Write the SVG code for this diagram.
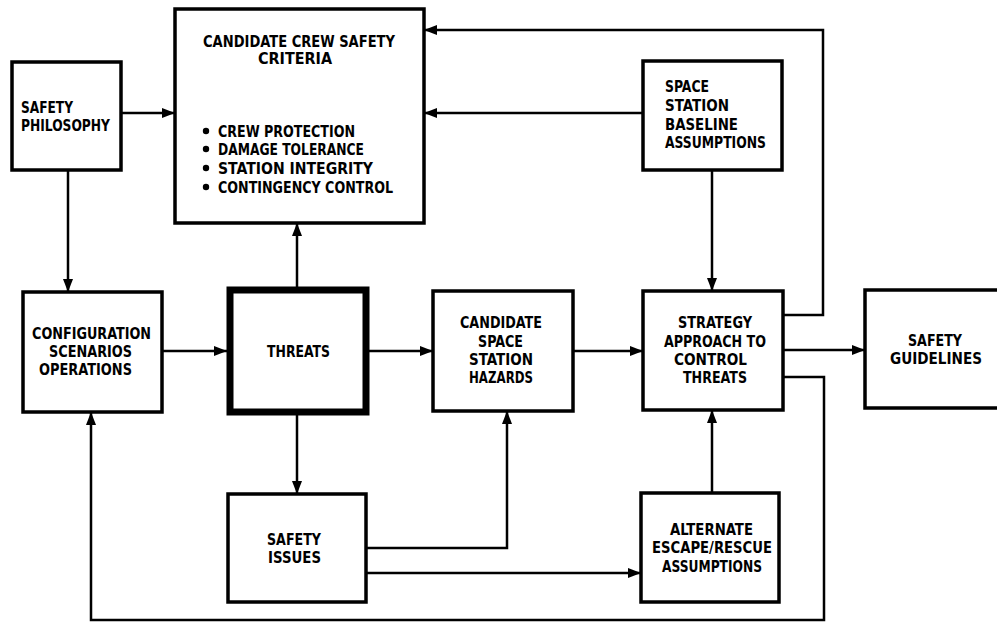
<svg xmlns="http://www.w3.org/2000/svg" width="997" height="622" viewBox="0 0 997 622">
<style>
.box{fill:#fff;stroke:#000;stroke-width:3.5}
.thick{fill:#fff;stroke:#000;stroke-width:7}
.c{fill:none;stroke:#000;stroke-width:2.5}
text{font-family:"DejaVu Sans Condensed","DejaVu Sans","Liberation Sans",sans-serif;font-weight:bold;font-size:15.5px;fill:#000}
</style>
<defs>
<marker id="ah" markerUnits="userSpaceOnUse" markerWidth="14" markerHeight="11" refX="13" refY="5" orient="auto">
<path d="M0,0 L13,5 L0,10 z" fill="#000"/>
</marker>
</defs>
<rect width="997" height="622" fill="#fff"/>
<g id="connectors">
<path class="c" d="M121,113 H175" marker-end="url(#ah)"/>
<path class="c" d="M68,170 V292" marker-end="url(#ah)"/>
<path class="c" d="M643,113 H424" marker-end="url(#ah)"/>
<path class="c" d="M783,315 H823 V30 H424" marker-end="url(#ah)"/>
<path class="c" d="M297,287 V223" marker-end="url(#ah)"/>
<path class="c" d="M162,351 H227" marker-end="url(#ah)"/>
<path class="c" d="M369,351 H433" marker-end="url(#ah)"/>
<path class="c" d="M573,351 H643" marker-end="url(#ah)"/>
<path class="c" d="M783,350 H865" marker-end="url(#ah)"/>
<path class="c" d="M712,170 V291" marker-end="url(#ah)"/>
<path class="c" d="M297,415 V494" marker-end="url(#ah)"/>
<path class="c" d="M366,548 H507 V411" marker-end="url(#ah)"/>
<path class="c" d="M366,573 H641" marker-end="url(#ah)"/>
<path class="c" d="M712,493 V410" marker-end="url(#ah)"/>
<path class="c" d="M783,377 H824 V620 H91 V412" marker-end="url(#ah)"/>
</g>
<g id="criteria">
<rect class="box" x="175" y="9" width="249" height="214"/>
<text x="203" y="47" textLength="192" lengthAdjust="spacingAndGlyphs">CANDIDATE CREW SAFETY</text>
<text x="258" y="64" textLength="74" lengthAdjust="spacingAndGlyphs">CRITERIA</text>
<circle cx="206" cy="131" r="3.2"/>
<text x="218" y="137" textLength="137" lengthAdjust="spacingAndGlyphs">CREW PROTECTION</text>
<circle cx="206" cy="149" r="3.2"/>
<text x="218" y="155" textLength="146" lengthAdjust="spacingAndGlyphs">DAMAGE TOLERANCE</text>
<circle cx="206" cy="168" r="3.2"/>
<text x="218" y="174" textLength="155" lengthAdjust="spacingAndGlyphs">STATION INTEGRITY</text>
<circle cx="206" cy="187" r="3.2"/>
<text x="218" y="193" textLength="175" lengthAdjust="spacingAndGlyphs">CONTINGENCY CONTROL</text>
</g>
<g id="philosophy">
<rect class="box" x="12" y="62" width="109" height="108"/>
<text x="21" y="113" textLength="52" lengthAdjust="spacingAndGlyphs">SAFETY</text>
<text x="21" y="131" textLength="89" lengthAdjust="spacingAndGlyphs">PHILOSOPHY</text>
</g>
<g id="baseline">
<rect class="box" x="643" y="61" width="139" height="109"/>
<text x="665" y="92" textLength="44" lengthAdjust="spacingAndGlyphs">SPACE</text>
<text x="665" y="111" textLength="64" lengthAdjust="spacingAndGlyphs">STATION</text>
<text x="665" y="130" textLength="73" lengthAdjust="spacingAndGlyphs">BASELINE</text>
<text x="665" y="148" textLength="101" lengthAdjust="spacingAndGlyphs">ASSUMPTIONS</text>
</g>
<g id="config">
<rect class="box" x="23" y="292" width="139" height="120"/>
<text x="32" y="339" textLength="119" lengthAdjust="spacingAndGlyphs">CONFIGURATION</text>
<text x="49" y="357" textLength="83" lengthAdjust="spacingAndGlyphs">SCENARIOS</text>
<text x="39" y="375" textLength="93" lengthAdjust="spacingAndGlyphs">OPERATIONS</text>
</g>
<g id="threats">
<rect class="thick" x="230" y="290" width="136" height="122"/>
<text x="267" y="357" textLength="63" lengthAdjust="spacingAndGlyphs">THREATS</text>
</g>
<g id="hazards">
<rect class="box" x="433" y="291" width="140" height="120"/>
<text x="460" y="328" textLength="82" lengthAdjust="spacingAndGlyphs">CANDIDATE</text>
<text x="478" y="347" textLength="45" lengthAdjust="spacingAndGlyphs">SPACE</text>
<text x="469" y="365" textLength="64" lengthAdjust="spacingAndGlyphs">STATION</text>
<text x="469" y="383" textLength="64" lengthAdjust="spacingAndGlyphs">HAZARDS</text>
</g>
<g id="strategy">
<rect class="box" x="643" y="291" width="140" height="119"/>
<text x="678" y="328" textLength="74" lengthAdjust="spacingAndGlyphs">STRATEGY</text>
<text x="664" y="347" textLength="102" lengthAdjust="spacingAndGlyphs">APPROACH TO</text>
<text x="674" y="365" textLength="73" lengthAdjust="spacingAndGlyphs">CONTROL</text>
<text x="683" y="383" textLength="64" lengthAdjust="spacingAndGlyphs">THREATS</text>
</g>
<g id="guidelines">
<rect class="box" x="865" y="290" width="150" height="118"/>
<text x="908" y="346" textLength="54" lengthAdjust="spacingAndGlyphs">SAFETY</text>
<text x="890" y="364" textLength="92" lengthAdjust="spacingAndGlyphs">GUIDELINES</text>
</g>
<g id="issues">
<rect class="box" x="228" y="494" width="138" height="108"/>
<text x="267" y="545" textLength="54" lengthAdjust="spacingAndGlyphs">SAFETY</text>
<text x="268" y="563" textLength="53" lengthAdjust="spacingAndGlyphs">ISSUES</text>
</g>
<g id="alternate">
<rect class="box" x="641" y="493" width="138" height="109"/>
<text x="670" y="535" textLength="83" lengthAdjust="spacingAndGlyphs">ALTERNATE</text>
<text x="652" y="553" textLength="120" lengthAdjust="spacingAndGlyphs">ESCAPE/RESCUE</text>
<text x="662" y="572" textLength="100" lengthAdjust="spacingAndGlyphs">ASSUMPTIONS</text>
</g>
</svg>
